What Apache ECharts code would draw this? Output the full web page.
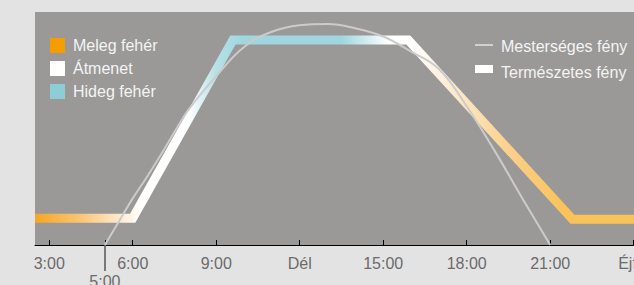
<!DOCTYPE html>
<html>
<head>
<meta charset="utf-8">
<script src="https://cdn.jsdelivr.net/npm/echarts@6/dist/echarts.min.js"></script>
<style>
  html, body { margin: 0; padding: 0; background: #e3e3e3; }
  #chart { width: 634px; height: 285px; }
</style>
</head>
<body>
<div id="chart"></div>
<script>
// tengely
const xMin = 2.49
const xMax = 24.01
const tickHours = [3, 6, 9, 12, 15, 18, 21, 24]
const tickLabels = ['3:00', '6:00', '9:00', 'Dél', '15:00', '18:00', '21:00', 'Éjfél']
const markHour = 5
const markLabel = '5:00'

// Természetes fény (óra, szint)
const naturalHours = [2.49, 6.0, 9.6, 15.9, 21.8, 24.01]
const naturalLevels = [11.5, 11.5, 88, 88, 11, 11]

// Mesterséges fény (óra, szint)
const artificialHours = [5, 5.5, 6, 6.5, 7, 7.5, 8, 9, 10, 11, 12, 13, 14, 15, 16, 17, 18, 19, 20, 21]
const artificialLevels = [0, 10, 20, 29, 38.5, 48.5, 58, 72.5, 85, 91.5, 94.3, 94.8, 93, 89.5, 83, 75.5, 59.5, 40.5, 20, 0]

const legendLeft = ['Meleg fehér', 'Átmenet', 'Hideg fehér']
const legendLeftColors = ['#f59c00', '#ffffff', '#8ccdd6']
const seriesNames = ['Mesterséges fény', 'Természetes fény']

const font = '"Liberation Sans", Arial, sans-serif'

// színátmenet órák szerint
const gradHours = [2.49, 4, 5.5, 6.3, 8.0, 9.0, 10, 13.5, 15.2, 16, 17.5, 19.5, 21.5, 24.01]
const gradColors = ['#f6a623', '#f8c36e', '#fde9cc', '#ffffff', '#ffffff', '#b6e0e6', '#9fd6df', '#9fd6df', '#ffffff', '#ffffff', '#fdebd0', '#fbd08c', '#f9c25a', '#f9c25a']
const stops = gradHours.map((h, i) => ({ offset: (h - xMin) / (xMax - xMin), color: gradColors[i] }))

const chart = echarts.init(document.getElementById('chart'), null, { renderer: 'svg' })

const graphic = []
legendLeft.forEach((name, i) => {
  graphic.push({ type: 'rect', left: 50, top: 38 + i * 23, shape: { width: 15, height: 15 }, style: { fill: legendLeftColors[i] } })
  graphic.push({ type: 'text', left: 73, top: 37 + i * 23, style: { text: name, fill: '#f4f4f4', font: '16px ' + font } })
})
graphic.push({ type: 'rect', left: 475, top: 44, shape: { width: 18, height: 2 }, style: { fill: '#d0d0d0' } })
graphic.push({ type: 'text', left: 501, top: 38, style: { text: seriesNames[0], fill: '#f4f4f4', font: '16px ' + font } })
graphic.push({ type: 'rect', left: 475, top: 65, shape: { width: 18, height: 8 }, style: { fill: '#ffffff' } })
graphic.push({ type: 'text', left: 501, top: 64, style: { text: seriesNames[1], fill: '#f4f4f4', font: '16px ' + font } })

const option = {
  backgroundColor: '#e3e3e3',
  animation: false,
  grid: {
    left: 35,
    right: 0,
    top: 12,
    bottom: 40,
    containLabel: false,
    outerBoundsMode: 'none',
    show: true,
    backgroundColor: '#9a9997',
    borderWidth: 0
  },
  xAxis: [
    {
      type: 'value',
      min: xMin,
      max: xMax,
      splitLine: { show: false },
      axisLine: { show: true, onZero: false, lineStyle: { color: '#000', width: 1 } },
      axisTick: { show: true, inside: true, length: 5, customValues: tickHours.concat([markHour]), lineStyle: { color: '#000', width: 1 } },
      axisLabel: {
        customValues: tickHours,
        margin: 10,
        color: '#6b6b6b',
        fontSize: 16,
        fontFamily: font,
        formatter: v => tickLabels[tickHours.indexOf(v)]
      }
    },
    {
      type: 'value',
      min: xMin,
      max: xMax,
      position: 'bottom',
      splitLine: { show: false },
      axisLine: { show: false },
      axisTick: { show: true, inside: false, length: 26, customValues: [markHour], lineStyle: { color: '#555', width: 1.5 } },
      axisLabel: {
        customValues: [markHour],
        margin: 28,
        color: '#6b6b6b',
        fontSize: 16,
        fontFamily: font,
        formatter: () => markLabel
      }
    }
  ],
  yAxis: { type: 'value', min: 0, max: 100, show: false, splitLine: { show: false } },
  series: [
    {
      name: seriesNames[1],
      type: 'line',
      symbol: 'none',
      data: naturalHours.map((h, i) => [h, naturalLevels[i]]),
      lineStyle: {
        width: 9,
        join: 'miter',
        cap: 'butt',
        color: { type: 'linear', x: 0, y: 0, x2: 1, y2: 0, colorStops: stops }
      },
      z: 2
    },
    {
      name: seriesNames[0],
      type: 'line',
      symbol: 'none',
      smooth: 0.4,
      data: artificialHours.map((h, i) => [h, artificialLevels[i]]),
      lineStyle: { width: 2, color: '#cbcbcb' },
      z: 3
    }
  ],
  graphic: graphic
}

chart.setOption(option)
</script>
</body>
</html>
